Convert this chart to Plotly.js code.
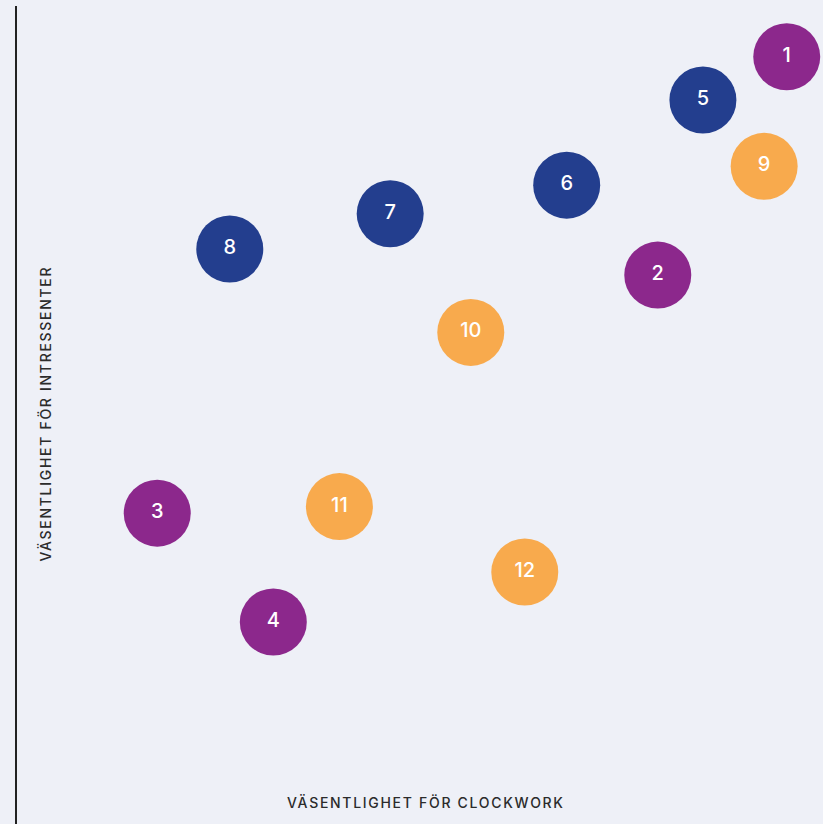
<!DOCTYPE html>
<html>
<head>
<meta charset="utf-8">
<script src="https://cdn.plot.ly/plotly-3.0.1.min.js"></script>
<style>
html,body{margin:0;padding:0;background:#eef0f7;}
#chart{width:823px;height:824px;}
.annotation-text{letter-spacing:1.7px;}
</style>
</head>
<body>
<div id="chart"></div>
<script>
const labels = ["1","2","3","4","5","6","7","8","9","10","11","12"];
const xValues = [95.5, 79.5, 17.4, 31.8, 85.1, 68.2, 46.3, 26.4, 92.7, 56.3, 40.0, 63.0];
const yValues = [93.8, 67.1, 38.0, 24.7, 88.5, 78.1, 74.6, 70.3, 80.4, 60.1, 38.8, 30.8];
const groups = ["a","a","a","a","b","b","b","b","c","c","c","c"];
const groupColors = {a:"#8c288c", b:"#233e8e", c:"#f8aa4d"};

const xTitle = "VÄSENTLIGHET FÖR CLOCKWORK";
const yTitle = "VÄSENTLIGHET FÖR INTRESSENTER";

const trace = {
  type: "scatter",
  mode: "markers+text",
  x: xValues,
  y: yValues,
  text: labels,
  textposition: "middle center",
  textfont: {family: "Inter, 'Open Sans', sans-serif", size: 20, weight: 500, color: "#ffffff"},
  marker: {size: 67, color: groups.map(g => groupColors[g]), line: {width: 0}, opacity: 1},
  hoverinfo: "none",
  cliponaxis: false
};

const layout = {
  width: 823, height: 824,
  paper_bgcolor: "#eef0f7",
  plot_bgcolor: "#eef0f7",
  margin: {l: 17, r: 0, t: 6, b: 0},
  showlegend: false,
  xaxis: {range: [0, 100], showgrid: false, zeroline: false, showticklabels: false, showline: false, ticks: ""},
  yaxis: {range: [0, 100], showgrid: false, zeroline: false, showticklabels: false, showline: true, linecolor: "#222222", linewidth: 1.6, ticks: ""},
  annotations: [
    {text: xTitle, xref: "paper", yref: "paper", x: 0.508, y: 0.0265, xanchor: "center", yanchor: "middle", showarrow: false,
     font: {family: "Inter, 'Open Sans', sans-serif", size: 14, weight: 500, color: "#2b2b2b"}},
    {text: yTitle, xref: "paper", yref: "paper", x: 0.035, y: 0.502, xanchor: "center", yanchor: "middle", showarrow: false, textangle: -90,
     font: {family: "Inter, 'Open Sans', sans-serif", size: 14, weight: 500, color: "#2b2b2b"}}
  ]
};

Plotly.newPlot("chart", [trace], layout, {displayModeBar: false, staticPlot: true});
</script>
</body>
</html>
